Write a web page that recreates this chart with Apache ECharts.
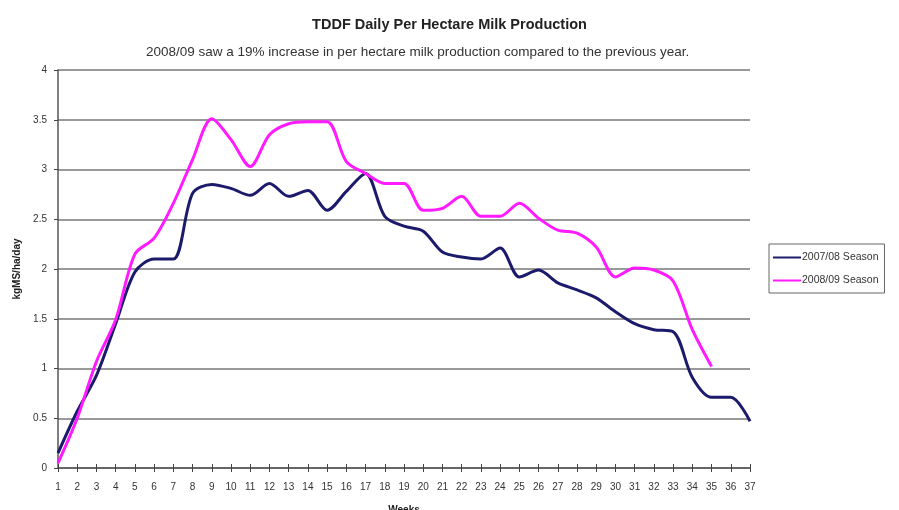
<!DOCTYPE html>
<html><head><meta charset="utf-8">
<script src="https://cdn.jsdelivr.net/npm/echarts@6/dist/echarts.min.js"></script>
<style>html,body{margin:0;padding:0;background:#fff}#c{width:899px;height:510px}</style>
</head><body><div id="c"></div>
<script>
const weeks = Array.from({length:37},(_, i)=>String(i+1));
const yTicks = [0,0.5,1,1.5,2,2.5,3,3.5,4];
const season0708 = [0.15,0.57,0.93,1.45,1.97,2.1,2.1,2.76,2.85,2.81,2.74,2.86,2.73,2.79,2.59,2.78,2.96,2.53,2.43,2.38,2.17,2.12,2.1,2.21,1.92,1.99,1.86,1.79,1.71,1.57,1.45,1.39,1.37,0.91,0.71,0.71,0.47];
const season0809 = [0.05,0.5,1.07,1.49,2.15,2.31,2.66,3.1,3.51,3.3,3.03,3.35,3.46,3.48,3.48,3.08,2.96,2.86,2.86,2.59,2.61,2.73,2.53,2.53,2.66,2.51,2.39,2.36,2.22,1.92,2.01,1.99,1.88,1.39,1.02];
const chart = echarts.init(document.getElementById('c'));
const labelFont = {fontFamily:'Liberation Sans, Arial, sans-serif', fontSize:10, color:'#333'};
chart.setOption({
  animation:false,
  title:[
    {text:'TDDF Daily Per Hectare Milk Production', left:'center', top:12,
     textStyle:{fontFamily:'Liberation Sans, Arial', fontSize:14.5, fontWeight:'bold', color:'#222'}},
    {text:'2008/09 saw a 19% increase in per hectare milk production compared to the previous year.', left:141, top:40,
     textStyle:{fontFamily:'Liberation Sans, Arial', fontSize:13.5, fontWeight:'normal', color:'#333'}}
  ],
  legend:{
    orient:'vertical', left:769, top:244, itemWidth:28, itemHeight:2, itemGap:12,
    padding:[8,6,7,4], borderColor:'#666', borderWidth:1,
    icon:'rect',
    textStyle:{fontFamily:'Liberation Sans, Arial', fontSize:10.5, color:'#333', padding:[0,0,0,-4]},
    data:['2007/08 Season','2008/09 Season']
  },
  grid:{left:58, right:149, top:70, bottom:42, outerBoundsMode:'none', containLabel:false},
  xAxis:[{
    type:'category', data:weeks, boundaryGap:false, name:'Weeks', nameLocation:'middle', nameGap:37,
    nameTextStyle:{fontFamily:'Liberation Sans, Arial', fontSize:10, fontWeight:'bold', color:'#222'},
    axisLine:{lineStyle:{color:'#555', width:1.5}},
    axisTick:{show:true, length:4, interval:0, lineStyle:{color:'#444'}},
    axisLabel:Object.assign({interval:0, margin:14}, labelFont),
    splitLine:{show:false}
  },{
    type:'category', data:weeks, boundaryGap:false, position:'bottom',
    axisLine:{show:false}, axisLabel:{show:false},
    axisTick:{show:true, inside:true, length:4, interval:0, lineStyle:{color:'#444'}},
    splitLine:{show:false}
  }],
  yAxis:{
    type:'value', min:0, max:4, interval:0.5, name:'kgMS/ha/day', nameLocation:'middle', nameGap:35, nameRotate:90,
    nameTextStyle:{fontFamily:'Liberation Sans, Arial', fontSize:10, fontWeight:'bold', color:'#222'},
    axisLine:{show:true, lineStyle:{color:'#555', width:1.5}},
    axisTick:{show:true, length:4, lineStyle:{color:'#444'}},
    axisLabel:Object.assign({margin:11, formatter:v=>yTicks.includes(v)?String(v):''}, labelFont),
    splitLine:{show:true, lineStyle:{color:'#777', width:1.5}}
  },
  series:[
    {name:'2007/08 Season', type:'line', data:season0708, smooth:0.3, symbol:'none',
     lineStyle:{color:'#1b1a6b', width:3}, itemStyle:{color:'#1b1a6b'}},
    {name:'2008/09 Season', type:'line', data:season0809, smooth:0.3, symbol:'none',
     lineStyle:{color:'#ff1aff', width:3}, itemStyle:{color:'#ff1aff'}}
  ]
});
</script></body></html>
